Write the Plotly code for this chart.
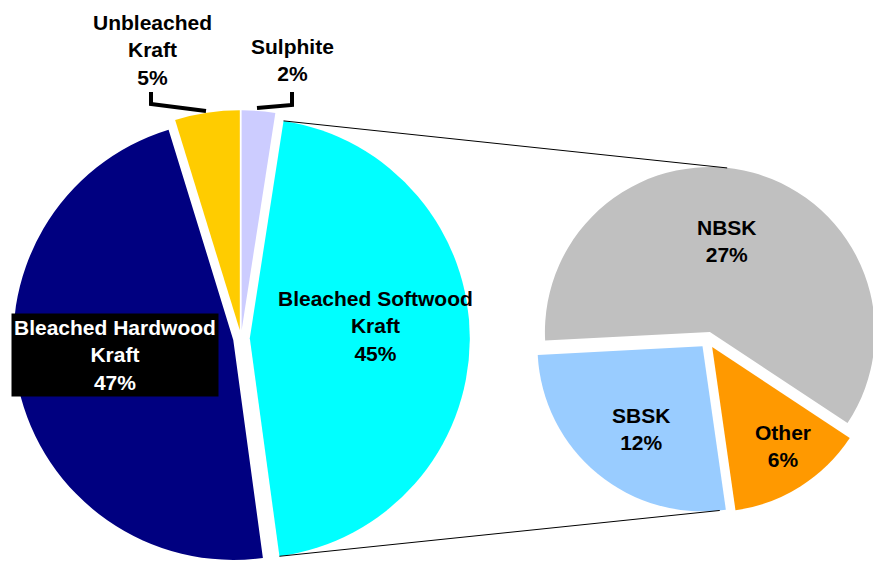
import math
import plotly.graph_objects as go

# The page body has an 8px default margin: draw in screen coordinates, offset by it.
SCR_W, SCR_H = 881, 567
OFF = 8
W, H = SCR_W - OFF, SCR_H - OFF

# ---- data ----
main_labels = ["Sulphite", "Bleached Softwood Kraft", "Bleached Hardwood Kraft", "Unbleached Kraft"]
main_values = [2.45, 45.4, 47.4, 4.75]
main_colors = ["#CCCCFF", "#00FFFF", "#000080", "#FFCC00"]
main_pull = [0.036, 0.04, 0.036, 0.036]
main_text = ["Sulphite", "Bleached Softwood<br>Kraft", "Bleached Hardwood<br>Kraft", "Unbleached<br>Kraft"]

sub_labels = ["Other", "SBSK", "NBSK"]
sub_values = [6.1, 12.0, 27.3]
sub_colors = ["#FF9900", "#99CCFF", "#C0C0C0"]
sub_pull = [0.05, 0.05, 0.05]
sub_rotation = 123.5


def clamp(v):
    return min(1.0, max(0.0, v))


def px(x, y):
    """screen pixel -> paper coords"""
    return (x - OFF) / W, 1 - (y - OFF) / H


def dom(cx, cy, half):
    x0, y1 = px(cx - half, cy - half)
    x1, y0 = px(cx + half, cy + half)
    return dict(x=[clamp(x0), clamp(x1)], y=[clamp(y0), clamp(y1)])


def pct(vals):
    s = sum(vals)
    return [f"{round(v / s * 100)}%" for v in vals]


def slice_geom(vals, pulls, rot, cx, cy, r):
    """return (start, end, pulled centre) of every slice, angles clockwise from 12 o'clock"""
    s = sum(vals)
    a = rot
    out = []
    for v, p in zip(vals, pulls):
        span = v / s * 360
        mid = math.radians(a + span / 2)
        out.append((a, a + span, (cx + p * r * math.sin(mid), cy - p * r * math.cos(mid))))
        a += span
    return out


def on_circle(c, r, ang):
    t = math.radians(ang)
    return c[0] + r * math.sin(t), c[1] - r * math.cos(t)


fig = go.Figure()

# main pie (screen geometry)
r1 = 220
half1 = r1 * (1 + max(main_pull))
c1 = (241, SCR_H - half1)
fig.add_trace(go.Pie(
    labels=main_labels, values=main_values, sort=False, direction="clockwise", rotation=0,
    marker=dict(colors=main_colors, line=dict(width=0)),
    pull=main_pull, textinfo="none", hoverinfo="label+percent",
    domain=dom(c1[0], c1[1], half1), showlegend=False,
))

# secondary pie
r2 = 165
half2 = r2 * (1 + max(sub_pull))
c2 = (SCR_W - half2, 340)
fig.add_trace(go.Pie(
    labels=sub_labels, values=sub_values, sort=False, direction="clockwise", rotation=sub_rotation,
    marker=dict(colors=sub_colors, line=dict(width=0)),
    pull=sub_pull, textinfo="none", hoverinfo="label+value",
    domain=dom(c2[0], c2[1], half2), showlegend=False,
))

FONT = "Liberation Sans, Arial, sans-serif"
fs = 21


def ann(text, x, y, color="black", bg=None):
    ax, ay = px(x, y)
    d = dict(text="<b>" + text + "</b>", x=ax, y=ay, xref="paper", yref="paper",
             showarrow=False, font=dict(family=FONT, size=fs, color=color),
             xanchor="center", yanchor="middle", align="center")
    if bg:
        d.update(bgcolor=bg, borderpad=2)
    return d


mp = pct(main_values)
sp = [f"{round(v)}%" for v in sub_values]
annotations = [
    ann(f"{main_text[0]}<br>{mp[0]}", 292, 60),
    ann(f"{main_text[1]}<br>{mp[1]}", 375, 326),
    ann(f"{main_text[2]}<br>{mp[2]}", 114.5, 354.5, color="white", bg="black"),
    ann(f"{main_text[3]}<br>{mp[3]}", 152, 50),
    ann(f"{sub_labels[2]}<br>{sp[2]}", 727, 241),
    ann(f"{sub_labels[1]}<br>{sp[1]}", 641, 429),
    ann(f"{sub_labels[0]}<br>{sp[0]}", 783, 446),
]


def path(points):
    s = ""
    for i, (x, y) in enumerate(points):
        X, Y = px(x, y)
        s += ("M" if i == 0 else "L") + f"{X:.5f},{Y:.5f} "
    return s


g1 = slice_geom(main_values, main_pull, 0, c1[0], c1[1], r1)
g2 = slice_geom(sub_values, sub_pull, sub_rotation, c2[0], c2[1], r2)
bsk = g1[1]
top_l = on_circle(bsk[2], r1, bsk[0])
bot_l = on_circle(bsk[2], r1, bsk[1])
top_r = on_circle(g2[2][2], r2, 6)
bot_r = on_circle(g2[1][2], r2, 174)

shapes = [
    # leader brackets
    dict(type="path", xref="paper", yref="paper", path=path([(151, 92), (151, 104), (206, 111)]),
         line=dict(color="black", width=4)),
    dict(type="path", xref="paper", yref="paper", path=path([(292, 92), (292, 105), (257, 108)]),
         line=dict(color="black", width=4)),
    # connector lines
    dict(type="path", xref="paper", yref="paper", path=path([top_l, top_r]),
         line=dict(color="black", width=1)),
    dict(type="path", xref="paper", yref="paper", path=path([bot_l, bot_r]),
         line=dict(color="black", width=1)),
]

fig.update_layout(
    width=W, height=H, margin=dict(l=0, r=0, t=0, b=0),
    paper_bgcolor="white", plot_bgcolor="white",
    annotations=annotations, shapes=shapes, showlegend=False,
)

fig.write_html("out.html")
